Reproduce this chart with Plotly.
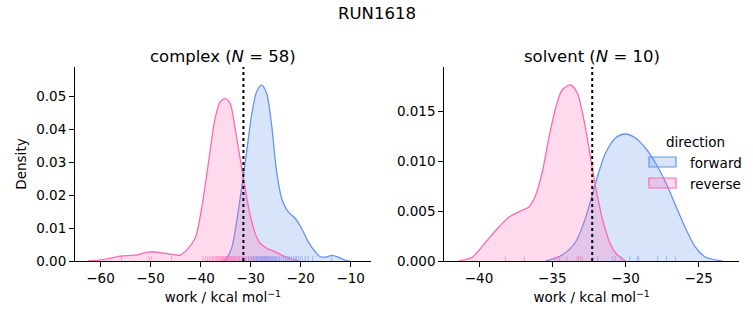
import plotly.graph_objects as go

# ---------------- data ----------------
# complex panel KDE curves
cx_fwd_x = [-35.6, -35.1, -33.8, -32.8, -31.8, -30.8, -29.8, -28.8, -27.8, -26.8, -25.8, -24.8,
            -23.8, -22.5, -21.1, -19.8, -18.5, -17.1, -16.1, -15.0, -13.8, -12.5, -11.1, -10.2]
cx_fwd_y = [0.0, 0.0003, 0.0039, 0.0119, 0.0221, 0.0332, 0.0444, 0.0515, 0.0535, 0.0510, 0.0413, 0.0271,
            0.0191, 0.0150, 0.0130, 0.0099, 0.0059, 0.0028, 0.0013, 0.0012, 0.0017, 0.0012, 0.0003, 0.0]
cx_rev_x = [-62.5, -59.5, -56.1, -53.0, -50.1, -47.0, -44.1, -42.8, -41.1, -39.8, -38.5, -37.1, -36.1,
            -35.1, -34.1, -33.1, -32.1, -31.1, -30.1, -29.1, -28.1, -26.8, -25.1, -23.1, -21.1, -20.3]
cx_rev_y = [0.0, 0.0004, 0.0015, 0.0018, 0.0028, 0.0023, 0.0018, 0.0033, 0.0069, 0.0160, 0.0292, 0.0434, 0.0484,
            0.0494, 0.0479, 0.0403, 0.0312, 0.0221, 0.0140, 0.0084, 0.0054, 0.0039, 0.0028, 0.0013, 0.0003, 0.0]

# solvent panel KDE curves
sv_fwd_x = [-35.45, -34.32, -33.41, -32.73, -32.27, -31.82, -31.36, -30.68, -30.0, -29.32, -28.64, -27.95,
            -27.27, -26.59, -25.91, -25.23, -24.55, -23.4]
sv_fwd_y = [0.0, 0.0006, 0.0019, 0.0043, 0.0066, 0.0089, 0.0108, 0.0123, 0.0127, 0.0123, 0.0113, 0.0098,
            0.0079, 0.0056, 0.0033, 0.0014, 0.0004, 0.0]
sv_rev_x = [-41.36, -40.45, -39.54, -38.64, -37.95, -37.04, -36.6, -36.13, -35.68, -35.23, -34.77, -34.32,
            -33.75, -33.29, -32.95, -32.61, -32.27, -31.93, -31.59, -31.14, -30.68, -30.0]
sv_rev_y = [0.0, 0.0004, 0.0019, 0.0034, 0.0044, 0.0051, 0.0054, 0.0066, 0.0089, 0.0123, 0.0153, 0.0171,
            0.0176, 0.0168, 0.0149, 0.0123, 0.0093, 0.0066, 0.0043, 0.0021, 0.0008, 0.0]

# rug samples (work values)
cx_fwd_rug = [-32.4, -31.6, -30.9, -30.4, -30.0, -29.7, -29.4, -29.1, -28.9, -28.7, -28.6, -28.5, -28.3, -28.1,
              -28.0, -27.9, -27.8, -27.7, -27.6, -27.5, -27.45, -27.4, -27.3, -27.2, -27.1, -27.0, -26.9, -26.8,
              -26.6, -26.5, -26.3, -26.2, -26.0, -25.8, -25.6, -25.4, -25.2, -25.0, -24.8, -24.5, -24.2, -23.8,
              -23.4, -23.0, -22.7, -22.5, -22.2, -21.8, -21.4, -21.1, -20.8, -20.5, -20.1, -19.7, -19.1, -18.5,
              -17.6, -13.8]
cx_rev_rug = [-55.8, -50.3, -49.9, -45.8, -39.5, -39.0, -38.6, -38.2, -37.9, -37.6, -37.3, -37.1, -36.9, -36.8,
              -36.7, -36.5, -36.3, -36.1, -36.0, -35.9, -35.8, -35.6, -35.5, -35.4, -35.3, -35.2, -35.1, -35.0,
              -34.9, -34.8, -34.7, -34.6, -34.5, -34.3, -34.2, -34.1, -34.0, -33.8, -33.7, -33.6, -33.4, -33.2,
              -33.1, -33.0, -32.8, -32.5, -32.2, -31.9, -31.6, -31.2, -30.8, -30.4, -29.9, -29.4, -28.8, -28.1,
              -27.3, -26.5]
sv_fwd_rug = [-31.9, -30.9, -30.7, -30.3, -29.7, -29.2, -29.1, -27.8, -27.2, -26.6]
sv_rev_rug = [-38.2, -36.9, -34.8, -34.6, -34.5, -34.0, -33.3, -33.2, -33.07, -32.95]

# dotted reference lines (free energy estimates)
cx_ref = [-31.44]
sv_ref = [-32.27]

# ticks
cx_xticks = [-60, -50, -40, -30, -20, -10]
cx_xticklabels = ["−60", "−50", "−40", "−30", "−20", "−10"]
sv_xticks = [-40, -35, -30, -25]
sv_xticklabels = ["−40", "−35", "−30", "−25"]
cx_yticks = [0.0, 0.01, 0.02, 0.03, 0.04, 0.05]
sv_yticks = [0.0, 0.005, 0.010, 0.015]

titles = ["complex (<i>N</i> = 58)", "solvent (<i>N</i> = 10)"]
suptitle = "RUN1618"
legend_title = "direction"
directions = ["forward", "reverse"]

# ---------------- styling ----------------
BLUE = "#6495ED"
PINK = "#FF69B4"
BLUE_FILL = "rgba(100,149,237,0.25)"
PINK_FILL = "rgba(255,105,180,0.25)"
FONT = "DejaVu Sans"
W, H = 753, 325

cx_range = [-65.1, -6.0]
cx_yrange = [0, 0.059]
sv_range = [-42.37, -22.25]
sv_yrange = [0, 0.0194]

fig = go.Figure()


def add_kde(x, y, color, fill, name, xa, ya):
    fig.add_trace(go.Scatter(
        x=x, y=y, mode="lines", line=dict(color=color, width=1.3, shape="spline", smoothing=0.8),
        fill="tozeroy", fillcolor=fill, name=name,
        showlegend=False, xaxis=xa, yaxis=ya, hoverinfo="skip"))


def add_rug(vals, color, yrange, xa, ya):
    h = 0.025 * (yrange[1] - yrange[0])
    xs, ys = [], []
    for v in vals:
        xs += [v, v, None]
        ys += [0, h, None]
    fig.add_trace(go.Scatter(x=xs, y=ys, mode="lines", line=dict(color=color, width=1),
                             opacity=0.55, showlegend=False, xaxis=xa, yaxis=ya, hoverinfo="skip"))


# complex
add_kde(cx_fwd_x, cx_fwd_y, BLUE, BLUE_FILL, directions[0], "x", "y")
add_kde(cx_rev_x, cx_rev_y, PINK, PINK_FILL, directions[1], "x", "y")
add_rug(cx_fwd_rug, BLUE, cx_yrange, "x", "y")
add_rug(cx_rev_rug, PINK, cx_yrange, "x", "y")
# solvent
add_kde(sv_fwd_x, sv_fwd_y, BLUE, BLUE_FILL, directions[0], "x2", "y2")
add_kde(sv_rev_x, sv_rev_y, PINK, PINK_FILL, directions[1], "x2", "y2")
add_rug(sv_fwd_rug, BLUE, sv_yrange, "x2", "y2")
add_rug(sv_rev_rug, PINK, sv_yrange, "x2", "y2")

for v in cx_ref:
    fig.add_shape(type="line", xref="x", yref="y domain", x0=v, x1=v, y0=0, y1=1,
                  line=dict(color="black", width=2, dash="dot"))
for v in sv_ref:
    fig.add_shape(type="line", xref="x2", yref="y2 domain", x0=v, x1=v, y0=0, y1=1,
                  line=dict(color="black", width=2, dash="dot"))

# legend (drawn like matplotlib's frameless patch legend)
leg_colors = [(BLUE, BLUE_FILL), (PINK, PINK_FILL)]
fig.add_annotation(text=legend_title, x=695 / W, y=1 - 142 / H, xref="paper", yref="paper",
                   xanchor="center", yanchor="middle", showarrow=False,
                   font=dict(family=FONT, size=13.5, color="black"))
for i, (name, (lc, fc)) in enumerate(zip(directions, leg_colors)):
    yc = 162 + i * 21
    fig.add_shape(type="rect", xref="paper", yref="paper", x0=649 / W, x1=676 / W,
                  y0=1 - (yc + 5) / H, y1=1 - (yc - 5) / H, fillcolor=fc, line=dict(color=lc, width=1.2))
    fig.add_annotation(text=name, x=688 / W, y=1 - (yc + 1) / H, xref="paper", yref="paper",
                       xanchor="left", yanchor="middle", showarrow=False,
                       font=dict(family=FONT, size=13.5, color="black"))

axis_common = dict(showline=True, linecolor="black", linewidth=1.1, ticks="outside", ticklen=5,
                   tickwidth=1.1, tickcolor="black", showgrid=False, zeroline=False, automargin=False,
                   tickfont=dict(family=FONT, size=13.5, color="black"), mirror=False)

ydom = [1 - 261 / H, 1 - 67 / H]
cx_dom = [75 / W, 370.7 / W]
sv_dom = [444.3 / W, 739 / W]
xlabel = "work / kcal mol<sup>−1</sup>"

fig.update_layout(
    width=W, height=H, margin=dict(l=0, r=0, t=0, b=0, autoexpand=False),
    paper_bgcolor="white", plot_bgcolor="white",
    font=dict(family=FONT, size=13.5, color="black"),
    xaxis=dict(domain=cx_dom, range=cx_range, tickvals=cx_xticks, ticktext=cx_xticklabels,
               title=dict(text=xlabel, font=dict(family=FONT, size=13.5), standoff=7), anchor="y", **axis_common),
    yaxis=dict(domain=ydom, range=cx_yrange, tickvals=cx_yticks, tickformat=".2f",
               title=dict(text="Density", font=dict(family=FONT, size=13.5), standoff=6), anchor="x", **axis_common),
    xaxis2=dict(domain=sv_dom, range=sv_range, tickvals=sv_xticks, ticktext=sv_xticklabels,
                title=dict(text=xlabel, font=dict(family=FONT, size=13.5), standoff=7), anchor="y2", **axis_common),
    yaxis2=dict(domain=ydom, range=sv_yrange, tickvals=sv_yticks, tickformat=".3f", anchor="x2", **axis_common),
    showlegend=False,
)

fig.add_annotation(text=suptitle, x=0.5, y=1 - 13 / H, xref="paper", yref="paper",
                   xanchor="center", yanchor="middle", showarrow=False, font=dict(family=FONT, size=16.5))
for t, dom in zip(titles, [cx_dom, sv_dom]):
    fig.add_annotation(text=t, x=(dom[0] + dom[1]) / 2, y=1 - 57 / H, xref="paper", yref="paper",
                       xanchor="center", yanchor="middle", showarrow=False, font=dict(family=FONT, size=16.5))

fig.write_html("out.html")
